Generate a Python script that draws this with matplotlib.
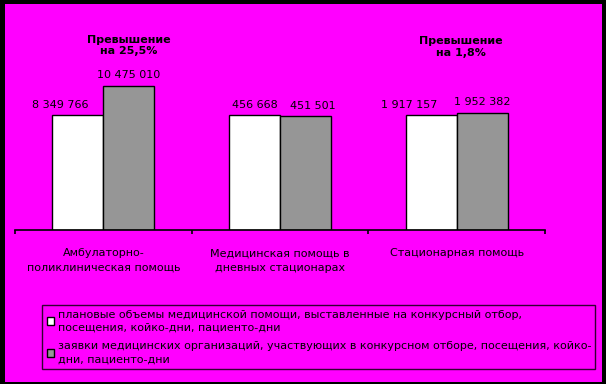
import numpy as np
import matplotlib.pyplot as plt
from matplotlib.patches import Rectangle

# данные
categories = ["Амбулаторно-\nполиклиническая помощь",
              "Медицинская помощь в\nдневных стационарах",
              "Стационарная помощь"]
plan = [8349766, 456668, 1917157]
bids = [10475010, 451501, 1952382]
series_names = ["плановые объемы медицинской помощи, выставленные на конкурсный отбор,\nпосещения, койко-дни, пациенто-дни",
                "заявки медицинских организаций, участвующих в конкурсном отборе, посещения, койко-\nдни, пациенто-дни"]
notes = ["Превышение\nна 25,5%", "Превышение\nна 1,8%"]

# высоты столбцов - в процентах от плана по каждой категории
plan_pct = np.array(plan) / np.array(plan) * 100
bids_pct = np.array(bids) / np.array(plan) * 100

W, H = 606, 384
fig = plt.figure(figsize=(W / 100, H / 100), dpi=100)
fig.patch.set_facecolor("black")
fig.patches.append(Rectangle((5 / W, 2 / H), 597 / W, 378 / H, transform=fig.transFigure,
                             facecolor="#ff00ff", edgecolor="none", zorder=-1))

ax = fig.add_axes([15 / W, 1 - 230 / H, 530 / W, 226 / H])
ax.set_facecolor("none")

x = np.arange(len(categories))
w = 0.288
b1 = ax.bar(x - w / 2, plan_pct, w, color="white", edgecolor="black", linewidth=1.0, label=series_names[0])
b2 = ax.bar(x + w / 2, bids_pct, w, color="#969696", edgecolor="black", linewidth=1.0, label=series_names[1])

ax.set_xlim(-0.5, 2.5)
ax.set_ylim(0, 196.5)

fs = 8

# подписи значений
fmt = lambda v: f"{v:,}".replace(",", " ")
plan_dx = [-13, 0, -16]
bids_dx = [0, 5, 0]
for i in range(len(categories)):
    ax.annotate(fmt(plan[i]), (x[i] - w / 2, plan_pct[i]), xytext=(plan_dx[i], 7.5),
                textcoords="offset points", ha="center", va="center", fontsize=fs)
    ax.annotate(fmt(bids[i]), (x[i] + w / 2, bids_pct[i]), xytext=(bids_dx[i], 7.5),
                textcoords="offset points", ha="center", va="center", fontsize=fs)

# надписи о превышении
ax.annotate(notes[0], (x[0] + w / 2, 1), xycoords=("data", "axes fraction"), xytext=(0, -30),
            textcoords="offset points", ha="center", va="center", fontsize=fs, fontweight="bold",
            linespacing=1.2)
ax.annotate(notes[1], (x[2], 1), xycoords=("data", "axes fraction"), xytext=(3, -31),
            textcoords="offset points", ha="center", va="center", fontsize=fs, fontweight="bold",
            linespacing=1.2)

for s in ["top", "right", "left"]:
    ax.spines[s].set_visible(False)
ax.spines["bottom"].set_linewidth(1.2)
ax.set_yticks([])
ax.set_xticks(np.arange(-0.5, 3, 1))
ax.set_xticklabels([])
ax.tick_params(axis="x", which="major", length=3, width=1.2, direction="out")
ax.set_xticks(x, minor=True)
ax.set_xticklabels(categories, minor=True, fontsize=fs, linespacing=1.6)
ax.tick_params(axis="x", which="minor", length=0, pad=13)

leg = fig.legend(handles=[b1, b2], loc="upper left",
                 bbox_to_anchor=(36 / W, 1 - 299 / H, 565 / W, 0), mode="expand",
                 fontsize=fs, frameon=True, fancybox=False, edgecolor="black",
                 facecolor="none", handlelength=0.7, handleheight=0.7,
                 handletextpad=0.3, labelspacing=0.75, borderpad=0.45)
leg.get_frame().set_linewidth(1.0)
for t in leg.get_texts():
    t.set_linespacing(1.4)

fig.savefig("out.png", dpi=100, facecolor=fig.get_facecolor())
